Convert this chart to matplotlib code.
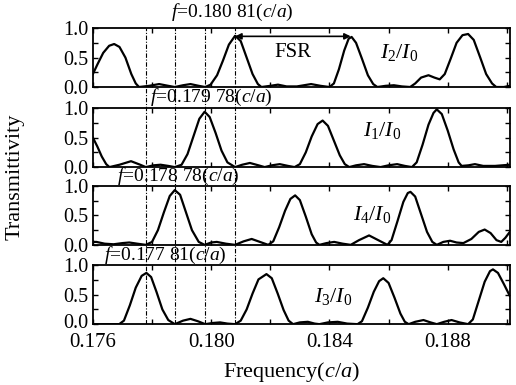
import matplotlib
matplotlib.use("Agg")
import matplotlib.pyplot as plt
import matplotlib.transforms as mtransforms
from matplotlib.ticker import FixedLocator

plt.rcParams['font.family'] = 'Liberation Serif'
plt.rcParams['mathtext.fontset'] = 'custom'
plt.rcParams['mathtext.rm'] = 'Liberation Serif'
plt.rcParams['mathtext.it'] = 'Liberation Serif:italic'

# I2/I0 (top panel)
f_i2 = [0.1760, 0.17615, 0.17635, 0.17655, 0.17672, 0.17690, 0.17710, 0.17730, 0.17745, 0.17756,
        0.17790, 0.17824, 0.17855, 0.17877, 0.17905, 0.17930, 0.17958, 0.17980,
        0.17998, 0.18020, 0.18040, 0.18060, 0.18081, 0.18100, 0.18120, 0.18140, 0.18158, 0.18170,
        0.18200, 0.18226, 0.18255, 0.18290, 0.18338, 0.18370, 0.18400,
        0.18415, 0.18432, 0.18450, 0.18465, 0.18475, 0.18490, 0.18510, 0.18530, 0.18548, 0.18562,
        0.18590, 0.18618, 0.18645, 0.18673, 0.18690, 0.18710, 0.18735, 0.18755, 0.18773,
        0.18790, 0.18810, 0.18830, 0.18850, 0.18869, 0.18888, 0.18910, 0.18930, 0.18950, 0.18964,
        0.18990, 0.19010]
t_i2 = [0.22, 0.38, 0.58, 0.70, 0.73, 0.68, 0.50, 0.22, 0.06, 0.0,
        0.02, 0.05, 0.02, 0.0, 0.03, 0.05, 0.02, 0.0,
        0.04, 0.20, 0.45, 0.72, 0.87, 0.78, 0.50, 0.22, 0.05, 0.0,
        0.02, 0.04, 0.01, 0.01, 0.05, 0.02, 0.0,
        0.06, 0.30, 0.62, 0.82, 0.85, 0.75, 0.48, 0.20, 0.05, 0.0,
        0.02, 0.03, 0.01, 0.0, 0.06, 0.16, 0.20, 0.16, 0.13,
        0.22, 0.48, 0.75, 0.88, 0.90, 0.80, 0.50, 0.22, 0.06, 0.0,
        0.0, 0.02]

# I1/I0
f_i1 = [0.1760, 0.17615, 0.17630, 0.17645, 0.17656, 0.17690, 0.17729, 0.17760, 0.17779,
        0.17805, 0.17829, 0.17855, 0.17877,
        0.17900, 0.17920, 0.17940, 0.17960, 0.17978, 0.17995, 0.18015, 0.18035, 0.18055, 0.18081,
        0.18105, 0.18131, 0.18160, 0.18181, 0.18205, 0.18232, 0.18260, 0.18282,
        0.18300, 0.18320, 0.18340, 0.18360, 0.18377, 0.18395, 0.18415, 0.18435, 0.18452, 0.18467,
        0.18490, 0.18517, 0.18545, 0.18573, 0.18600, 0.18629, 0.18655, 0.18679,
        0.18695, 0.18715, 0.18735, 0.18752, 0.18763, 0.18780, 0.18800, 0.18820, 0.18837, 0.18847,
        0.18870, 0.18892, 0.18920, 0.18960, 0.18985, 0.19010]
t_i1 = [0.50, 0.35, 0.18, 0.05, 0.0, 0.04, 0.10, 0.04, 0.0,
        0.03, 0.04, 0.02, 0.0,
        0.04, 0.22, 0.52, 0.82, 0.94, 0.85, 0.58, 0.28, 0.08, 0.0,
        0.04, 0.07, 0.03, 0.0, 0.03, 0.05, 0.02, 0.0,
        0.05, 0.25, 0.52, 0.73, 0.79, 0.70, 0.45, 0.20, 0.05, 0.0,
        0.03, 0.05, 0.02, 0.0, 0.03, 0.05, 0.02, 0.0,
        0.08, 0.38, 0.72, 0.92, 0.98, 0.90, 0.62, 0.30, 0.08, 0.02,
        0.03, 0.05, 0.02, 0.02, 0.03, 0.04]

# I4/I0
f_i4 = [0.1760, 0.17612, 0.17640, 0.17670, 0.17700, 0.17723, 0.17750, 0.17779,
        0.17800, 0.17820, 0.17840, 0.17860, 0.17877, 0.17895, 0.17915, 0.17935, 0.17958, 0.17978,
        0.18000, 0.18019, 0.18050, 0.18081, 0.18110, 0.18137, 0.18165, 0.18193,
        0.18210, 0.18230, 0.18250, 0.18268, 0.18284, 0.18300, 0.18320, 0.18340, 0.18355, 0.18366,
        0.18390, 0.18416, 0.18445, 0.18472, 0.18500, 0.18534, 0.18565, 0.18596,
        0.18610, 0.18630, 0.18650, 0.18665, 0.18674, 0.18690, 0.18710, 0.18730, 0.18748, 0.18763,
        0.18785, 0.18808, 0.18830, 0.18853, 0.18880, 0.18905, 0.18925, 0.18945, 0.18965, 0.18981,
        0.18995, 0.19010]
t_i4 = [0.05, 0.05, 0.02, 0.01, 0.03, 0.04, 0.02, 0.0,
        0.05, 0.25, 0.55, 0.83, 0.93, 0.85, 0.55, 0.25, 0.05, 0.0,
        0.04, 0.05, 0.02, 0.0, 0.06, 0.10, 0.05, 0.0,
        0.06, 0.30, 0.58, 0.78, 0.84, 0.76, 0.48, 0.18, 0.04, 0.0,
        0.03, 0.05, 0.02, 0.0, 0.08, 0.16, 0.08, 0.0,
        0.08, 0.40, 0.73, 0.88, 0.90, 0.82, 0.52, 0.22, 0.05, 0.0,
        0.05, 0.07, 0.04, 0.03, 0.10, 0.22, 0.26, 0.20, 0.08, 0.05,
        0.12, 0.22]

# I3/I0 (bottom panel)
f_i3 = [0.1760, 0.17660, 0.17689, 0.17705, 0.17725, 0.17745, 0.17765, 0.17781, 0.17797, 0.17815,
        0.17835, 0.17855, 0.17877, 0.17905, 0.17930, 0.17955, 0.17980, 0.18005, 0.18030, 0.18055,
        0.18081, 0.18100, 0.18120, 0.18140, 0.18160, 0.18187, 0.18205, 0.18225, 0.18245, 0.18262,
        0.18277, 0.18300, 0.18327, 0.18350, 0.18366, 0.18395, 0.18428, 0.18460, 0.18495,
        0.18510, 0.18530, 0.18550, 0.18568, 0.18582, 0.18600, 0.18620, 0.18640, 0.18655, 0.18668,
        0.18690, 0.18718, 0.18742, 0.18763, 0.18788, 0.18813, 0.18840, 0.18869,
        0.18885, 0.18905, 0.18925, 0.18943, 0.18953, 0.18970, 0.18990, 0.19010]
t_i3 = [0.0, 0.0, 0.0, 0.06, 0.32, 0.62, 0.82, 0.87, 0.80, 0.55,
        0.25, 0.07, 0.0, 0.06, 0.09, 0.05, 0.0, 0.02, 0.03, 0.01,
        0.0, 0.06, 0.25, 0.52, 0.76, 0.85, 0.78, 0.52, 0.24, 0.06,
        0.0, 0.03, 0.04, 0.01, 0.0, 0.03, 0.04, 0.01, 0.0,
        0.05, 0.28, 0.55, 0.73, 0.78, 0.70, 0.45, 0.18, 0.04, 0.0,
        0.04, 0.07, 0.03, 0.0, 0.04, 0.07, 0.03, 0.0,
        0.08, 0.40, 0.72, 0.90, 0.93, 0.87, 0.68, 0.48]

# marked resonance frequencies, top panel first
marked_f = [0.18081, 0.17978, 0.17878, 0.17781]
marked_labels = ['0.180 81', '0.179 78', '0.178 78', '0.177 81']
fsr_start, fsr_end = 0.18081, 0.18472

panels = [
    (f_i2, t_i2, r'$I_2/I_0$', 0.18636, 0.58),
    (f_i1, t_i1, r'$I_1/I_0$', 0.18578, 0.62),
    (f_i4, t_i4, r'$I_4/I_0$', 0.18545, 0.52),
    (f_i3, t_i3, r'$I_3/I_0$', 0.18414, 0.47),
]
bottoms = [0.774, 0.566, 0.364, 0.158]
height = 0.153
left, width = 0.180, 0.808
xlim = (0.176, 0.1901)

fig = plt.figure(figsize=(5.16, 3.85), dpi=100)
axes = []
for (fx, ty, lab, lx, ly), b in zip(panels, bottoms):
    ax = fig.add_axes([left, b, width, height])
    ax.plot(fx, ty, color='black', lw=1.6)
    ax.set_xlim(*xlim)
    ax.set_ylim(0, 1.0)
    ax.yaxis.set_major_locator(FixedLocator([0.0, 0.5, 1.0]))
    ax.yaxis.set_minor_locator(FixedLocator([0.25, 0.75]))
    ax.xaxis.set_major_locator(FixedLocator([0.176, 0.180, 0.184, 0.188]))
    ax.xaxis.set_minor_locator(FixedLocator([0.178, 0.182, 0.186, 0.190]))
    ax.set_yticklabels(['0.0', '0.5', '1.0'])
    ax.tick_params(which='both', direction='in', top=True, right=True, length=3.5, width=1.0)
    ax.tick_params(axis='y', labelsize=14.5, pad=3)
    ax.tick_params(axis='x', labelsize=15, pad=6)
    for s in ax.spines.values():
        s.set_linewidth(1.3)
    ax.text(lx, ly, lab, fontsize=16, ha='center', va='center')
    if b != bottoms[-1]:
        ax.tick_params(labelbottom=False)
    axes.append(ax)

axes[-1].set_xticklabels(['0.176', '0.180', '0.184', '0.188'])
# nudge the lowest "0.0" up a little so it does not collide with "0.176"
zero_lab = axes[-1].get_yticklabels()[0]
zero_lab.set_transform(zero_lab.get_transform()
                       + mtransforms.ScaledTranslation(0, 2.5 / 72, fig.dpi_scale_trans))

fig.text(292 / 516, 1 - 372 / 385, r'Frequency($c/a$)', fontsize=16, ha='center', va='center')
fig.text(0.03, 0.54, 'Transmittivity', rotation=90, fontsize=16, ha='center', va='center')

# FSR arrow on top panel
ax1 = axes[0]
ax1.annotate('', xy=(fsr_end, 0.86), xytext=(fsr_start, 0.86),
             arrowprops=dict(arrowstyle='<|-|>', color='black', lw=1.2, mutation_scale=9,
                             shrinkA=0, shrinkB=0))
ax1.text((fsr_start + fsr_end) / 2, 0.58, 'FSR', fontsize=15, ha='center', va='center')

# dash-dot marker lines through all panels
over = fig.add_axes([left, bottoms[-1], width, bottoms[0] + height - bottoms[-1]])
over.set_xlim(*xlim)
over.set_ylim(0, 1)
over.axis('off')
for f in marked_f:
    over.axvline(f, color='black', lw=0.8, ls=(0, (4, 1.5, 1, 1.5)))

# frequency labels above each panel
gap_x = [232, 211, 178, 165]
gap_y = [12, 97, 176, 255]
for lab, gx, gy in zip(marked_labels, gap_x, gap_y):
    fig.text(gx / 516, 1 - gy / 385, r'$f$=' + lab + r'($c/a$)', fontsize=14,
             ha='center', va='center')

fig.savefig('out.png', dpi=100)
